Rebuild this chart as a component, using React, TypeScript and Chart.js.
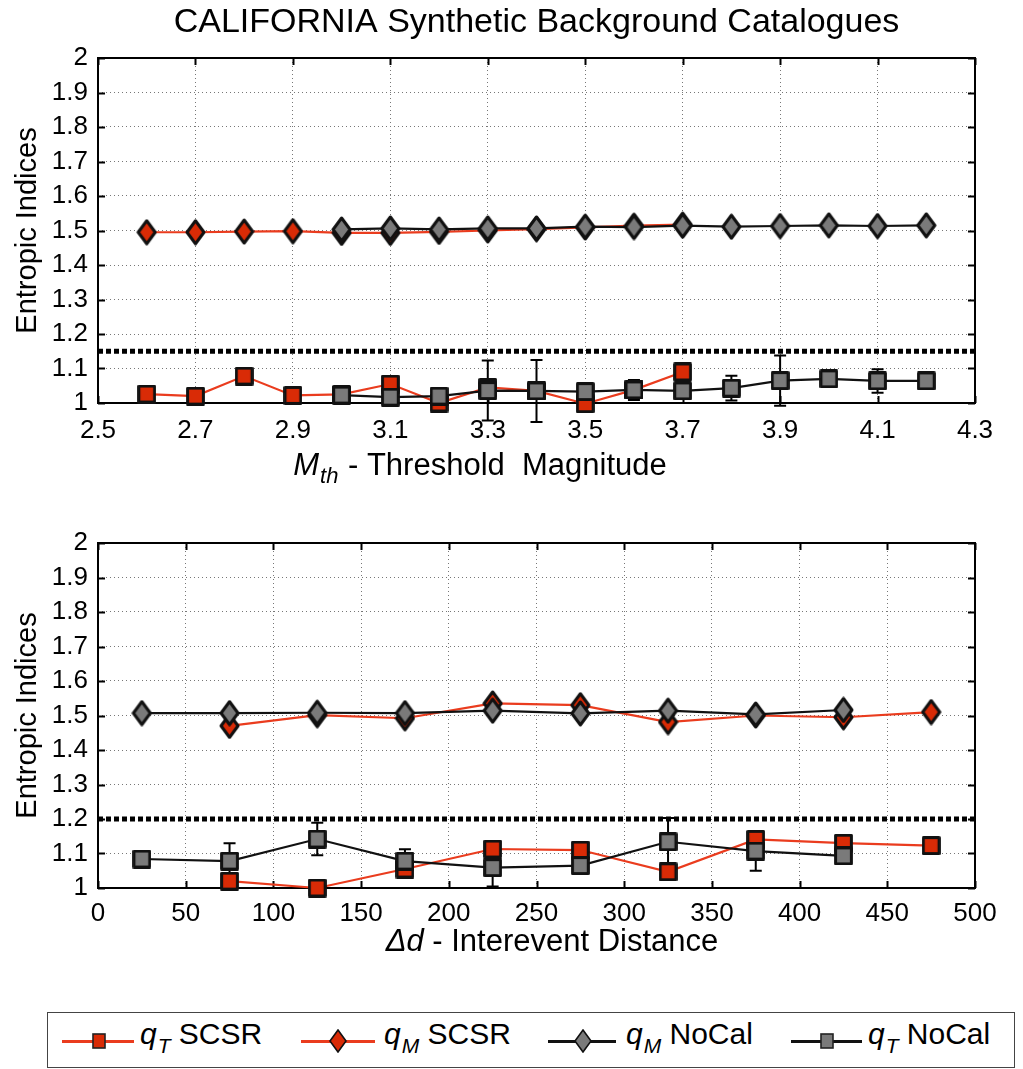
import React, { useEffect, useRef } from 'react';
import { Chart, registerables } from 'chart.js';

Chart.register(...registerables);

const FONT = '"Liberation Sans", Arial, Helvetica, sans-serif';
const RED_FILL = '#d92b06';
const RED_LINE = '#ea3c1e';
const GRAY_FILL = '#7a7a7a';
const BLACK_LINE = '#111111';

// ---------- shared axis
const yRange = [1, 2];
const yStep = 0.1;
const yAxisTitle = 'Entropic Indices';

// ---------- top panel: threshold magnitude
const topTitle = 'CALIFORNIA Synthetic Background Catalogues';
const topXRange = [2.5, 4.3];
const topXStep = 0.2;
const topThreshold = 1.15;
const topXTitleParts = ['M', 'th', ' - Threshold  Magnitude'];

const mthScsr = [2.6, 2.7, 2.8, 2.9, 3.0, 3.1, 3.2, 3.3, 3.4, 3.5, 3.6, 3.7];
const mthQtScsr = [1.026, 1.02, 1.078, 1.022, 1.025, 1.055, 1.0, 1.045, 1.035, 0.998, 1.038, 1.09];
const mthQtScsrErr = [0, 0, 0, 0, 0, 0, 0.01, 0.012, 0, 0.01, 0, 0.006];
const mthQmScsr = [1.495, 1.495, 1.497, 1.498, 1.493, 1.493, 1.496, 1.5, 1.504, 1.509, 1.514, 1.517];

const mthNoCal = [3.0, 3.1, 3.2, 3.3, 3.4, 3.5, 3.6, 3.7, 3.8, 3.9, 4.0, 4.1, 4.2];
const mthQtNoCal = [1.023, 1.017, 1.02, 1.036, 1.035, 1.033, 1.038, 1.035, 1.043, 1.065, 1.07, 1.064, 1.064];
const mthQtNoCalErr = [0.005, 0.005, 0.005, 0.087, 0.09, 0.015, 0.029, 0.006, 0.036, 0.073, 0.004, 0.034, 0.004];
const mthQmNoCal = [1.503, 1.506, 1.503, 1.506, 1.506, 1.511, 1.51, 1.514, 1.511, 1.513, 1.515, 1.513, 1.515];

// ---------- bottom panel: interevent distance
const distRange = [0, 500];
const distStep = 50;
const bottomThreshold = 1.2;
const bottomXTitleParts = ['\u0394d', '', ' - Interevent Distance'];

const distScsr = [75, 125, 175, 225, 275, 325, 375, 425, 475];
const distQtScsr = [1.02, 1.0, 1.055, 1.113, 1.11, 1.047, 1.141, 1.13, 1.123];
const distQtScsrErr = [0.01, 0, 0.01, 0.01, 0, 0, 0.012, 0.008, 0];
const distQmScsr = [1.47, 1.501, 1.492, 1.535, 1.53, 1.481, 1.5, 1.495, 1.51];

const distNoCal = [25, 75, 125, 175, 225, 275, 325, 375, 425];
const distQtNoCal = [1.084, 1.078, 1.142, 1.078, 1.059, 1.065, 1.134, 1.107, 1.093];
const distQtNoCalErr = [0, 0.052, 0.047, 0.034, 0.055, 0, 0.069, 0.057, 0];
const distQmNoCal = [1.507, 1.507, 1.508, 1.507, 1.514, 1.506, 1.514, 1.503, 1.516];

// ---------- legend
const legendSymbols = ['q', 'q', 'q', 'q'];
const legendSubs = ['T', 'M', 'M', 'T'];
const legendNames = ['SCSR', 'SCSR', 'NoCal', 'NoCal'];

function squareMarker(fill: string, s: number) {
  const c = document.createElement('canvas');
  c.width = s;
  c.height = s;
  const g = c.getContext('2d')!;
  g.fillStyle = fill;
  g.strokeStyle = '#111';
  g.lineWidth = 3;
  g.lineJoin = 'round';
  g.beginPath();
  g.rect(1.6, 1.6, s - 3.2, s - 3.2);
  g.fill();
  g.stroke();
  return c;
}

function diamondMarker(fill: string, w: number, h: number) {
  const c = document.createElement('canvas');
  c.width = w;
  c.height = h;
  const g = c.getContext('2d')!;
  g.fillStyle = fill;
  g.strokeStyle = '#111';
  g.lineWidth = 3;
  g.lineJoin = 'round';
  g.beginPath();
  g.moveTo(w / 2, 2);
  g.lineTo(w - 2, h / 2);
  g.lineTo(w / 2, h - 2);
  g.lineTo(2, h / 2);
  g.closePath();
  g.fill();
  g.stroke();
  return c;
}

function series(xs: number[], ys: number[], errs: number[] | null, line: string, marker: any, order: number) {
  return {
    data: xs.map((x, i) => ({ x, y: ys[i] })),
    errors: errs,
    borderColor: line,
    backgroundColor: line,
    borderWidth: 2.2,
    pointStyle: marker,
    pointRadius: 11,
    pointHoverRadius: 11,
    order,
    clip: false as any,
    tension: 0,
  };
}

function thresholdSet(range: number[], thr: number) {
  return {
    data: [{ x: range[0], y: thr }, { x: range[1], y: thr }],
    errors: null,
    borderColor: '#000',
    borderWidth: 5,
    borderDash: [5, 3],
    pointRadius: 0,
    order: 10,
    clip: false as any,
  };
}

const framePlugin = {
  id: 'frame',
  beforeDatasetsDraw(chart: any) {
    const { ctx, chartArea: a, scales } = chart;
    ctx.save();
    ctx.strokeStyle = '#000';
    ctx.lineWidth = 2;
    ctx.strokeRect(a.left, a.top, a.right - a.left, a.bottom - a.top);
    ctx.beginPath();
    scales.x.ticks.forEach((t: any) => {
      const px = Math.round(scales.x.getPixelForValue(t.value)) + 0.5;
      ctx.moveTo(px, a.bottom);
      ctx.lineTo(px, a.bottom - 7);
      ctx.moveTo(px, a.top);
      ctx.lineTo(px, a.top + 7);
    });
    scales.y.ticks.forEach((t: any) => {
      const py = Math.round(scales.y.getPixelForValue(t.value)) + 0.5;
      ctx.moveTo(a.left, py);
      ctx.lineTo(a.left + 7, py);
      ctx.moveTo(a.right, py);
      ctx.lineTo(a.right - 7, py);
    });
    ctx.stroke();
    // error bars
    ctx.strokeStyle = '#000';
    ctx.lineWidth = 2;
    chart.data.datasets.forEach((ds: any, di: number) => {
      if (!ds.errors) return;
      const meta = chart.getDatasetMeta(di);
      meta.data.forEach((pt: any, i: number) => {
        const e = ds.errors[i];
        if (!e) return;
        const v = ds.data[i].y;
        const y1 = scales.y.getPixelForValue(v + e);
        const y2 = scales.y.getPixelForValue(v - e);
        ctx.beginPath();
        ctx.moveTo(pt.x, y1);
        ctx.lineTo(pt.x, y2);
        ctx.moveTo(pt.x - 6, y1);
        ctx.lineTo(pt.x + 6, y1);
        ctx.moveTo(pt.x - 6, y2);
        ctx.lineTo(pt.x + 6, y2);
        ctx.stroke();
      });
    });
    ctx.restore();
  },
};

// parts: [italic main, italic subscript, regular text]
function xTitlePlugin(parts: string[], centerX: number, baseline: number) {
  return {
    id: 'xtitle',
    afterDraw(chart: any) {
      const ctx = chart.ctx;
      const main = `31px ${FONT}`;
      const ital = `italic 31px ${FONT}`;
      const sub = `italic 22px ${FONT}`;
      ctx.save();
      ctx.fillStyle = '#000';
      ctx.textBaseline = 'alphabetic';
      ctx.textAlign = 'left';
      ctx.font = ital;
      const w0 = ctx.measureText(parts[0]).width;
      ctx.font = sub;
      const w1 = parts[1] ? ctx.measureText(parts[1]).width + 2 : 0;
      ctx.font = main;
      const w2 = ctx.measureText(parts[2]).width;
      let x = centerX - (w0 + w1 + w2) / 2;
      ctx.font = ital;
      ctx.fillText(parts[0], x, baseline);
      x += w0;
      if (parts[1]) {
        ctx.font = sub;
        ctx.fillText(parts[1], x + 1, baseline + 8);
        x += w1;
      }
      ctx.font = main;
      ctx.fillText(parts[2], x, baseline);
      ctx.restore();
    },
  };
}

const mainTitlePlugin = {
  id: 'maintitle',
  afterDraw(chart: any) {
    const { ctx, chartArea: a } = chart;
    ctx.save();
    ctx.fillStyle = '#000';
    ctx.font = `34px ${FONT}`;
    ctx.textAlign = 'center';
    ctx.textBaseline = 'middle';
    ctx.fillText(topTitle, (a.left + a.right) / 2, 23);
    ctx.restore();
  },
};

function makeOptions(xRange: number[], xStep: number, xFmt: (v: number) => string, xHeight: number, padTop: number, xPad: number) {
  return {
    responsive: false,
    maintainAspectRatio: false,
    animation: false as const,
    devicePixelRatio: 1,
    layout: { padding: { left: 0, right: 48, top: padTop, bottom: 0 } },
    plugins: {
      legend: { display: false },
      tooltip: { enabled: false },
      title: { display: false },
    },
    scales: {
      x: {
        type: 'linear' as const,
        min: xRange[0],
        max: xRange[1],
        ticks: {
          stepSize: xStep,
          autoSkip: false,
          maxRotation: 0,
          padding: xPad,
          color: '#000',
          font: { family: FONT, size: 26 },
          callback: (v: any) => xFmt(Number(v)),
        },
        grid: { color: '#777', lineWidth: 1, drawTicks: false },
        border: { display: false, dash: [1, 3] },
        afterFit: (s: any) => {
          s.height = xHeight;
        },
      },
      y: {
        type: 'linear' as const,
        min: yRange[0],
        max: yRange[1],
        ticks: {
          stepSize: yStep,
          autoSkip: false,
          padding: 10,
          color: '#000',
          font: { family: FONT, size: 26 },
          callback: (v: any) => String(Number(Number(v).toFixed(1))),
        },
        title: {
          display: true,
          text: yAxisTitle,
          color: '#000',
          font: { family: FONT, size: 29, lineHeight: 1.2 },
          padding: { top: 11, bottom: 0 },
        },
        grid: { color: '#777', lineWidth: 1, drawTicks: false },
        border: { display: false, dash: [1, 3] },
        afterFit: (s: any) => {
          s.width = 98;
        },
      },
    },
  };
}

function Legend() {
  const items = [
    { l: 62, r: 134, m: 99, t: 140, line: RED_LINE, fill: RED_FILL, shape: 'square' },
    { l: 301, r: 375, m: 338, t: 384, line: RED_LINE, fill: RED_FILL, shape: 'diamond' },
    { l: 548, r: 616, m: 583, t: 626, line: BLACK_LINE, fill: GRAY_FILL, shape: 'diamond' },
    { l: 791, r: 862, m: 827, t: 868, line: BLACK_LINE, fill: GRAY_FILL, shape: 'square' },
  ];
  const cy = 1041;
  return (
    <>
      <div
        style={{
          position: 'absolute',
          left: 47,
          top: 1012,
          width: 968,
          height: 56,
          border: '1px solid #444',
          boxSizing: 'border-box',
        }}
      />
      {items.map((it, i) => (
        <React.Fragment key={i}>
          <div
            style={{ position: 'absolute', left: it.l, top: cy - 1, width: it.r - it.l, height: 2.5, background: it.line }}
          />
          <svg style={{ position: 'absolute', left: it.m - 10, top: cy - 12 }} width={20} height={24}>
            {it.shape === 'square' ? (
              <rect x={4} y={5} width={12} height={14} fill={it.fill} stroke="#222" strokeWidth={1.6} />
            ) : (
              <polygon points="10,1 18,12 10,23 2,12" fill={it.fill} stroke="#111" strokeWidth={1.6} />
            )}
          </svg>
          <div
            style={{
              position: 'absolute',
              left: it.t,
              top: 1019,
              font: `30px ${FONT}`,
              lineHeight: '30px',
              whiteSpace: 'nowrap',
              color: '#000',
            }}
          >
            <i>{legendSymbols[i]}</i>
            <i style={{ fontSize: 21, position: 'relative', top: 9, marginLeft: 1 }}>{legendSubs[i]}</i>
            {' ' + legendNames[i]}
          </div>
        </React.Fragment>
      ))}
    </>
  );
}

export default function App() {
  const topRef = useRef<HTMLCanvasElement>(null);
  const botRef = useRef<HTMLCanvasElement>(null);

  useEffect(() => {
    const redSq = squareMarker(RED_FILL, 19);
    const graySq = squareMarker(GRAY_FILL, 19);
    const redDia = diamondMarker(RED_FILL, 21, 27);
    const grayDia = diamondMarker(GRAY_FILL, 21, 27);

    const top = new Chart(topRef.current!, {
      type: 'line',
      data: {
        datasets: [
          series(mthNoCal, mthQtNoCal, mthQtNoCalErr, BLACK_LINE, graySq, 0),
          series(mthNoCal, mthQmNoCal, null, BLACK_LINE, grayDia, 1),
          series(mthScsr, mthQtScsr, mthQtScsrErr, RED_LINE, redSq, 2),
          series(mthScsr, mthQmScsr, null, RED_LINE, redDia, 3),
          thresholdSet(topXRange, topThreshold),
        ] as any,
      },
      options: makeOptions(topXRange, topXStep, (v) => v.toFixed(1), 87, 58, 12) as any,
      plugins: [framePlugin, mainTitlePlugin, xTitlePlugin(topXTitleParts, 480, 475)],
    });

    const bot = new Chart(botRef.current!, {
      type: 'line',
      data: {
        datasets: [
          series(distNoCal, distQtNoCal, distQtNoCalErr, BLACK_LINE, graySq, 0),
          series(distNoCal, distQmNoCal, null, BLACK_LINE, grayDia, 1),
          series(distScsr, distQtScsr, distQtScsrErr, RED_LINE, redSq, 2),
          series(distScsr, distQmScsr, null, RED_LINE, redDia, 3),
          thresholdSet(distRange, bottomThreshold),
        ] as any,
      },
      options: makeOptions(distRange, distStep, (v) => String(Math.round(v)), 82, 53, 10) as any,
      plugins: [framePlugin, xTitlePlugin(bottomXTitleParts, 552, 951 - 490)],
    });

    return () => {
      top.destroy();
      bot.destroy();
    };
  }, []);

  return (
    <div style={{ position: 'absolute', left: 0, top: 0, width: 1023, height: 1069, background: '#fff', overflow: 'hidden' }}>
      <canvas ref={topRef} width={1023} height={490} style={{ position: 'absolute', left: 0, top: 0, display: 'block' }} />
      <canvas ref={botRef} width={1023} height={480} style={{ position: 'absolute', left: 0, top: 490, display: 'block' }} />
      <Legend />
    </div>
  );
}
